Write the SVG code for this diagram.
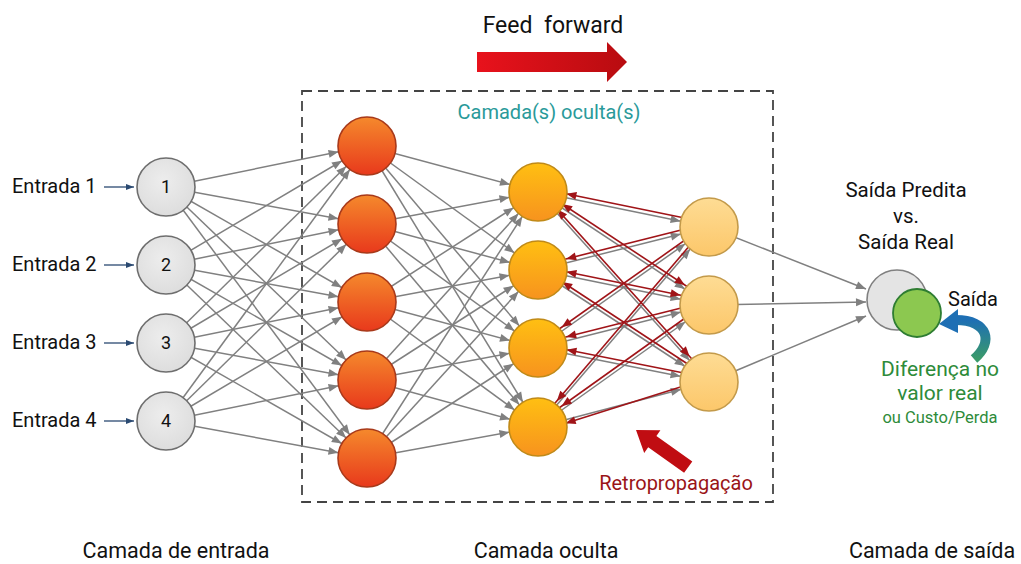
<svg xmlns="http://www.w3.org/2000/svg" width="1021" height="564" viewBox="0 0 1021 564">
  <style>
    .lbl { font-family: Roboto, "Liberation Sans", sans-serif; fill: #111111; }
    .gray { stroke: #808080; stroke-width: 1.5; fill: none; marker-end: url(#hg); }
    .red { stroke: #a01418; stroke-width: 1.6; fill: none; marker-end: url(#hr); }
    .in { stroke: #2b4a72; stroke-width: 1.3; marker-end: url(#hb); }
    .num { font-family: Roboto, "Liberation Sans", sans-serif; font-size: 18px; fill: #111111; text-anchor: middle; }
  </style>
  <defs>
    <!-- arrowheads offset back by the node radius so the tip lands on the circle edge -->
    <marker id="hg" viewBox="0 0 10 8" markerUnits="userSpaceOnUse" markerWidth="10" markerHeight="8" refX="39" refY="4" orient="auto" overflow="visible">
      <path d="M0,0 L10,4 L0,8 z" fill="#808080"/>
    </marker>
    <marker id="hg0" viewBox="0 0 10 8" markerUnits="userSpaceOnUse" markerWidth="10" markerHeight="8" refX="10" refY="4" orient="auto" overflow="visible">
      <path d="M0,0 L10,4 L0,8 z" fill="#808080"/>
    </marker>
    <marker id="hr" viewBox="0 0 10 8" markerUnits="userSpaceOnUse" markerWidth="10" markerHeight="8" refX="39" refY="4" orient="auto" overflow="visible">
      <path d="M0,0 L10,4 L0,8 z" fill="#a01418"/>
    </marker>
    <marker id="hrs" viewBox="0 0 10 8" markerUnits="userSpaceOnUse" markerWidth="10" markerHeight="8" refX="-29" refY="4" orient="auto" overflow="visible">
      <path d="M10,0 L0,4 L10,8 z" fill="#a01418"/>
    </marker>
    <marker id="hb" viewBox="0 0 8 6" markerUnits="userSpaceOnUse" markerWidth="8" markerHeight="6" refX="8" refY="3" orient="auto" overflow="visible">
      <path d="M0,0 L8,3 L0,6 z" fill="#2b4a72"/>
    </marker>
    <radialGradient id="gIn" cx="0.45" cy="0.4" r="0.65">
      <stop offset="0" stop-color="#ededed"/>
      <stop offset="1" stop-color="#dcdcdc"/>
    </radialGradient>
    <linearGradient id="gL1" x1="0" y1="0" x2="0" y2="1">
      <stop offset="0" stop-color="#f5892c"/>
      <stop offset="1" stop-color="#e8391c"/>
    </linearGradient>
    <linearGradient id="gL2" x1="0" y1="0" x2="0" y2="1">
      <stop offset="0" stop-color="#ffbf12"/>
      <stop offset="1" stop-color="#f7931e"/>
    </linearGradient>
    <linearGradient id="gL3" x1="0" y1="0" x2="0" y2="1">
      <stop offset="0" stop-color="#fedc94"/>
      <stop offset="1" stop-color="#fcc76a"/>
    </linearGradient>
    <linearGradient id="gFF" x1="0" y1="0" x2="1" y2="0">
      <stop offset="0" stop-color="#e8121c"/>
      <stop offset="1" stop-color="#b80c10"/>
    </linearGradient>
    <linearGradient id="gCurl" x1="0" y1="1" x2="0" y2="0">
      <stop offset="0" stop-color="#3a9a6a"/>
      <stop offset="1" stop-color="#1e6fb4"/>
    </linearGradient>
  </defs>

  <rect width="1021" height="564" fill="#ffffff"/>

  <!-- hidden-layer frame -->
  <rect x="302" y="91" width="471" height="411" fill="none" stroke="#444" stroke-width="1.8" stroke-dasharray="10 6"/>

  <!-- titles -->
  <text class="lbl" x="553" y="33" font-size="23" text-anchor="middle" xml:space="preserve">Feed  forward</text>
  <polygon points="477,52 607,52 607,42 627,62 607,82 607,72 477,72" fill="url(#gFF)"/>
  <text x="549" y="119" font-family="Roboto, 'Liberation Sans', sans-serif" font-size="20" fill="#2a9a9a" text-anchor="middle">Camada(s) oculta(s)</text>

  <g id="connectors">
    <!-- inputs -> hidden 1 -->
    <g>
      <line class="gray" x1="166" y1="187" x2="367" y2="146"/><line class="gray" x1="166" y1="187" x2="367" y2="224"/><line class="gray" x1="166" y1="187" x2="367" y2="302"/><line class="gray" x1="166" y1="187" x2="367" y2="380"/><line class="gray" x1="166" y1="187" x2="367" y2="458"/>
      <line class="gray" x1="166" y1="265" x2="367" y2="146"/><line class="gray" x1="166" y1="265" x2="367" y2="224"/><line class="gray" x1="166" y1="265" x2="367" y2="302"/><line class="gray" x1="166" y1="265" x2="367" y2="380"/><line class="gray" x1="166" y1="265" x2="367" y2="458"/>
      <line class="gray" x1="166" y1="343" x2="367" y2="146"/><line class="gray" x1="166" y1="343" x2="367" y2="224"/><line class="gray" x1="166" y1="343" x2="367" y2="302"/><line class="gray" x1="166" y1="343" x2="367" y2="380"/><line class="gray" x1="166" y1="343" x2="367" y2="458"/>
      <line class="gray" x1="166" y1="421" x2="367" y2="146"/><line class="gray" x1="166" y1="421" x2="367" y2="224"/><line class="gray" x1="166" y1="421" x2="367" y2="302"/><line class="gray" x1="166" y1="421" x2="367" y2="380"/><line class="gray" x1="166" y1="421" x2="367" y2="458"/>
    </g>
    <!-- hidden 1 -> hidden 2 -->
    <g>
      <line class="gray" x1="367" y1="146" x2="538" y2="192"/><line class="gray" x1="367" y1="146" x2="538" y2="270"/><line class="gray" x1="367" y1="146" x2="538" y2="348"/><line class="gray" x1="367" y1="146" x2="538" y2="427"/>
      <line class="gray" x1="367" y1="224" x2="538" y2="192"/><line class="gray" x1="367" y1="224" x2="538" y2="270"/><line class="gray" x1="367" y1="224" x2="538" y2="348"/><line class="gray" x1="367" y1="224" x2="538" y2="427"/>
      <line class="gray" x1="367" y1="302" x2="538" y2="192"/><line class="gray" x1="367" y1="302" x2="538" y2="270"/><line class="gray" x1="367" y1="302" x2="538" y2="348"/><line class="gray" x1="367" y1="302" x2="538" y2="427"/>
      <line class="gray" x1="367" y1="380" x2="538" y2="192"/><line class="gray" x1="367" y1="380" x2="538" y2="270"/><line class="gray" x1="367" y1="380" x2="538" y2="348"/><line class="gray" x1="367" y1="380" x2="538" y2="427"/>
      <line class="gray" x1="367" y1="458" x2="538" y2="192"/><line class="gray" x1="367" y1="458" x2="538" y2="270"/><line class="gray" x1="367" y1="458" x2="538" y2="348"/><line class="gray" x1="367" y1="458" x2="538" y2="427"/>
    </g>
    <!-- hidden 2 -> hidden 3 -->
    <g>
      <line class="gray" x1="538" y1="192" x2="709" y2="227"/><line class="gray" x1="538" y1="192" x2="709" y2="305"/><line class="gray" x1="538" y1="192" x2="709" y2="382"/>
      <line class="gray" x1="538" y1="270" x2="709" y2="227"/><line class="gray" x1="538" y1="270" x2="709" y2="305"/><line class="gray" x1="538" y1="270" x2="709" y2="382"/>
      <line class="gray" x1="538" y1="348" x2="709" y2="227"/><line class="gray" x1="538" y1="348" x2="709" y2="305"/><line class="gray" x1="538" y1="348" x2="709" y2="382"/>
      <line class="gray" x1="538" y1="427" x2="709" y2="227"/><line class="gray" x1="538" y1="427" x2="709" y2="305"/><line class="gray" x1="538" y1="427" x2="709" y2="382"/>
    </g>
    <!-- backpropagation: hidden 3 -> hidden 2 -->
    <g>
      <line class="red" x1="709" y1="223" x2="538" y2="188"/><line class="red" x1="709" y1="223" x2="538" y2="266"/><line class="red" x1="709" y1="223" x2="538" y2="344"/><line class="red" x1="709" y1="223" x2="538" y2="423"/>
      <line class="red" x1="709" y1="301" x2="538" y2="266" marker-start="url(#hrs)"/><line class="red" x1="709" y1="301" x2="538" y2="344"/><line class="red" x1="709" y1="301" x2="538" y2="423"/><line class="red" x1="709" y1="301" x2="538" y2="188" marker-start="url(#hrs)"/>
      <line class="red" x1="709" y1="378" x2="538" y2="188" marker-start="url(#hrs)"/><line class="red" x1="709" y1="378" x2="538" y2="266"/><line class="red" x1="709" y1="378" x2="538" y2="344"/><line class="red" x1="709" y1="378" x2="538" y2="432"/>
    </g>
    <!-- hidden 3 -> output -->
    <g>
      <line class="gray" x1="709" y1="227" x2="866" y2="289" style="marker-end:url(#hg0)"/>
      <line class="gray" x1="709" y1="305" x2="866" y2="302" style="marker-end:url(#hg0)"/>
      <line class="gray" x1="709" y1="382" x2="866" y2="316" style="marker-end:url(#hg0)"/>
    </g>
    <!-- external inputs -->
    <g>
      <line class="in" x1="104" y1="187" x2="134" y2="187"/>
      <line class="in" x1="104" y1="265" x2="134" y2="265"/>
      <line class="in" x1="104" y1="343" x2="134" y2="343"/>
      <line class="in" x1="104" y1="421" x2="134" y2="421"/>
    </g>
  </g>

  <!-- input layer -->
  <g id="in1"><circle cx="166" cy="187" r="29" fill="url(#gIn)" stroke="#6e6e6e" stroke-width="1.6"/><text class="num" x="166" y="193">1</text></g>
  <g id="in2"><circle cx="166" cy="265" r="29" fill="url(#gIn)" stroke="#6e6e6e" stroke-width="1.6"/><text class="num" x="166" y="271">2</text></g>
  <g id="in3"><circle cx="166" cy="343" r="29" fill="url(#gIn)" stroke="#6e6e6e" stroke-width="1.6"/><text class="num" x="166" y="349">3</text></g>
  <g id="in4"><circle cx="166" cy="421" r="29" fill="url(#gIn)" stroke="#6e6e6e" stroke-width="1.6"/><text class="num" x="166" y="427">4</text></g>

  <!-- hidden layer 1 -->
  <g id="h1a"><circle cx="367" cy="146" r="29" fill="url(#gL1)" stroke="#a8391a" stroke-width="1.6"/></g>
  <g id="h1b"><circle cx="367" cy="224" r="29" fill="url(#gL1)" stroke="#a8391a" stroke-width="1.6"/></g>
  <g id="h1c"><circle cx="367" cy="302" r="29" fill="url(#gL1)" stroke="#a8391a" stroke-width="1.6"/></g>
  <g id="h1d"><circle cx="367" cy="380" r="29" fill="url(#gL1)" stroke="#a8391a" stroke-width="1.6"/></g>
  <g id="h1e"><circle cx="367" cy="458" r="29" fill="url(#gL1)" stroke="#a8391a" stroke-width="1.6"/></g>

  <!-- hidden layer 2 -->
  <g id="h2a"><circle cx="538" cy="192" r="29" fill="url(#gL2)" stroke="#c08a18" stroke-width="1.6"/></g>
  <g id="h2b"><circle cx="538" cy="270" r="29" fill="url(#gL2)" stroke="#c08a18" stroke-width="1.6"/></g>
  <g id="h2c"><circle cx="538" cy="348" r="29" fill="url(#gL2)" stroke="#c08a18" stroke-width="1.6"/></g>
  <g id="h2d"><circle cx="538" cy="427" r="29" fill="url(#gL2)" stroke="#c08a18" stroke-width="1.6"/></g>

  <!-- hidden layer 3 -->
  <g id="h3a"><circle cx="709" cy="227" r="29" fill="url(#gL3)" stroke="#c39a4a" stroke-width="1.6"/></g>
  <g id="h3b"><circle cx="709" cy="305" r="29" fill="url(#gL3)" stroke="#c39a4a" stroke-width="1.6"/></g>
  <g id="h3c"><circle cx="709" cy="382" r="29" fill="url(#gL3)" stroke="#c39a4a" stroke-width="1.6"/></g>

  <!-- output -->
  <g id="output">
    <circle cx="897" cy="300" r="30" fill="#e4e4e4" stroke="#808080" stroke-width="1.6"/>
    <circle cx="917" cy="313" r="24" fill="#8cc850" stroke="#2e7d32" stroke-width="1.8"/>
  </g>

  <!-- error feedback curl -->
  <g id="curl">
    <path d="M974,359 C994,342 988,320 956,320" fill="none" stroke="url(#gCurl)" stroke-width="10"/>
    <polygon points="939,324 958,309 958,333" fill="#1e6fb4"/>
  </g>

  <!-- backprop arrow -->
  <polygon points="636,430 660.4,430.2 656.4,435.9 692.3,461.4 684.1,472.8 648.2,447.3 644.2,453" fill="#c00d12"/>
  <text x="676" y="490" font-family="Roboto, 'Liberation Sans', sans-serif" font-size="20" fill="#9a1418" text-anchor="middle">Retropropagação</text>

  <!-- labels -->
  <g class="lbl" font-size="20">
    <text x="12" y="193">Entrada 1</text>
    <text x="12" y="271">Entrada 2</text>
    <text x="12" y="349">Entrada 3</text>
    <text x="12" y="427">Entrada 4</text>
  </g>
  <g class="lbl" font-size="20.5" text-anchor="middle">
    <text x="906" y="197">Saída Predita</text>
    <text x="906" y="223">vs.</text>
    <text x="906" y="249">Saída Real</text>
  </g>
  <text class="lbl" x="948" y="306" font-size="20">Saída</text>
  <g font-family="Roboto, 'Liberation Sans', sans-serif" fill="#2e8b3a" text-anchor="middle">
    <text x="940" y="376" font-size="21">Diferença no</text>
    <text x="940" y="400" font-size="21">valor real</text>
    <text x="940" y="423" font-size="16.5">ou Custo/Perda</text>
  </g>
  <g class="lbl" font-size="21.5" text-anchor="middle">
    <text x="176" y="558">Camada de entrada</text>
    <text x="546" y="558">Camada oculta</text>
    <text x="932" y="558">Camada de saída</text>
  </g>
</svg>
